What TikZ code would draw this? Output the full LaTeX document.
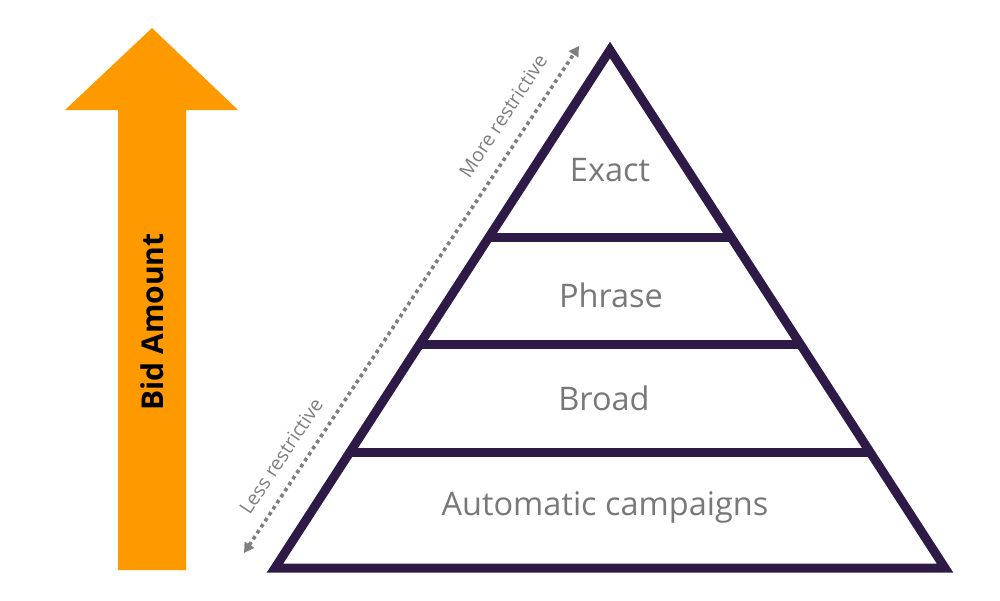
\documentclass[tikz,border=0pt]{standalone}
\usepackage{fontspec}
\setmainfont{Open Sans}
\usetikzlibrary{calc,arrows.meta}
\definecolor{pyrline}{HTML}{2E1A47}
\definecolor{bidorange}{HTML}{FF9900}
\definecolor{tiergray}{HTML}{787878}
\definecolor{hintgray}{HTML}{7F7F7F}
\tikzset{
  tier/.style={text=tiergray, font=\fontsize{32.5}{32.5}\selectfont},
  hint/.style={text=hintgray, font=\fontsize{19.5}{19.5}\selectfont, rotate=56.5},
  edge/.style={draw=pyrline, line width=9pt, line join=miter},
  bar/.style={draw=pyrline, line width=9pt},
}
\begin{document}
\begin{tikzpicture}[x=1pt,y=-1pt]
\useasboundingbox (0,0) rectangle (1000,600);

% bid amount arrow
\fill[bidorange] (152,28) -- (238,110) -- (186,110) -- (186,570)
  -- (118,570) -- (118,110) -- (65,110) -- cycle;
\node[rotate=90, font=\bfseries\fontsize{30}{30}\selectfont] (bid) at (152,322) {Bid Amount};

% pyramid outline
\coordinate (apex) at (610,50);
\coordinate (bl) at (275,568);
\coordinate (br) at (945,568);
\draw[edge] (apex) -- (bl) -- (br) -- cycle;

% tier dividers
\foreach \t/\n in {0.3629/a,0.5676/b,0.7761/c}{
  \coordinate (L\n) at ($(apex)!\t!(bl)$);
  \coordinate (R\n) at ($(apex)!\t!(br)$);
  \draw[bar] (L\n) -- (R\n);
}

% tier labels
\node[tier] (exact) at (610,170) {Exact};
\node[tier] (phrase) at (611,295) {Phrase};
\node[tier] (broad) at (604,398) {Broad};
\node[tier] (auto) at (605,507) {Automatic campaigns};

% restrictiveness scale
\coordinate (lo) at (244,553);
\coordinate (hi) at (579,46);
\draw[hintgray, line width=3.6pt, dash pattern=on 3.6pt off 3.6pt,
  {Triangle[width=11pt,length=10pt]}-{Triangle[width=11pt,length=10pt]}] (lo) -- (hi);
\node[hint] (more) at (503,116) {More restrictive};
\node[hint] (less) at (281,456) {Less restrictive};
\end{tikzpicture}
\end{document}
